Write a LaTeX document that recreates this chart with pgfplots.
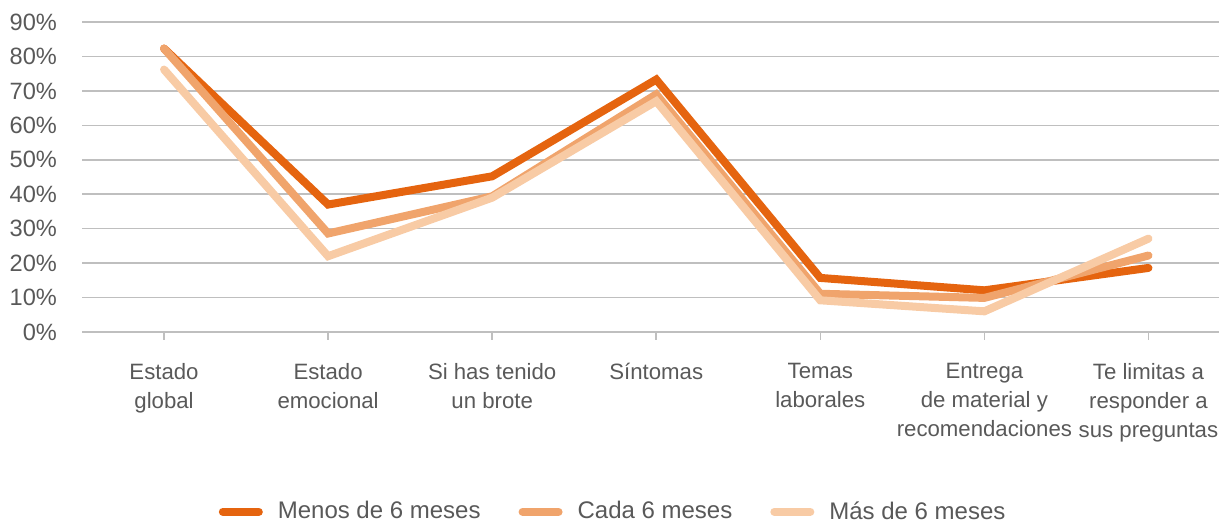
\documentclass[border=0pt]{standalone}
\usepackage{pgfplots}
\pgfplotsset{compat=1.18}
\usepackage{fontspec}
\setmainfont{Liberation Sans}
\definecolor{menos}{HTML}{E5640F}
\definecolor{cada}{HTML}{F0A46C}
\definecolor{mas}{HTML}{F8CBA5}
\definecolor{txt}{HTML}{595959}
\definecolor{grd}{HTML}{BFBFBF}
\begin{document}
\begin{tikzpicture}
\begin{axis}[
	scale only axis,
	width=568.5pt, height=155pt,
	xmin=-0.5, xmax=6.43,
	ymin=0, ymax=90,
	ytick={0,10,...,90},
	yticklabel={\pgfmathprintnumber{\tick}\%},
	/pgf/number format/assume math mode=true,
	xtick={0,...,6},
	xticklabels={Estado\\global, Estado\\emocional, Si has tenido\\un brote, Síntomas, Temas\\laborales, Entrega\\de material y\\recomendaciones, Te limitas a\\responder a\\sus preguntas},
	x tick label style={align=center, text=txt, font=\fontsize{11.1}{14.5}\selectfont, anchor=north, yshift=-8pt},
	y tick label style={text=txt, font=\fontsize{11.8}{12}\selectfont, xshift=-5pt},
	axis x line*=bottom, axis y line*=left,
	x axis line style={grd, line width=0.8pt, -},
	y axis line style={draw=none},
	ymajorgrids, grid style={grd, line width=0.8pt},
	major x tick style={grd, line width=0.8pt},
	tick align=outside, major tick length=4pt,
	ytick style={draw=none},
	every axis plot/.append style={line width=4pt, line join=miter, line cap=round},
	legend style={draw=none, at={(0.468,-0.58)}, anchor=center, legend columns=-1,
		font=\fontsize{12}{13}\selectfont, text=txt,
		/tikz/every odd column/.append style={column sep=5.5pt},
		/tikz/every even column/.append style={column sep=17pt}},
	legend image code/.code={\draw[#1, line width=4pt, line cap=round] (0pt,0pt) -- (18pt,0pt);},
	clip=false,
]
\addplot[menos] coordinates {(0,82.3) (1,37.0) (2,45.2) (3,73.3) (4,15.7) (5,12.1) (6,18.6)};
\addplot[cada] coordinates {(0,82.3) (1,28.6) (2,39.4) (3,69.0) (4,11.1) (5,9.9) (6,22.2)};
\addplot[mas] coordinates {(0,76.2) (1,22.0) (2,39.0) (3,67.0) (4,9.2) (5,6.0) (6,27.1)};
\legend{Menos de 6 meses, Cada 6 meses, Más de 6 meses}
\end{axis}
\pgfresetboundingbox
\path (-41pt,-95pt) rectangle (568.5pt,166pt);
\end{tikzpicture}
\end{document}
